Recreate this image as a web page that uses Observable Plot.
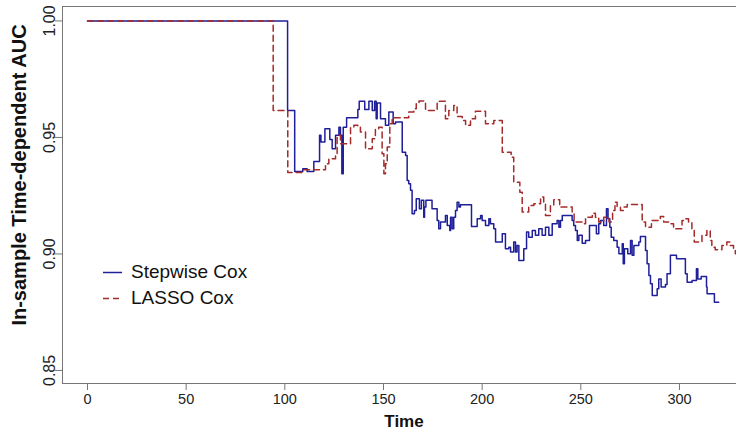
<!DOCTYPE html>
<html><head><meta charset="utf-8">
<script src="https://cdn.jsdelivr.net/npm/d3@7"></script>
<script src="https://cdn.jsdelivr.net/npm/@observablehq/plot@0.6"></script>
<style>
html,body{margin:0;padding:0;background:#fff;overflow:hidden;}
#wrap{position:relative;width:736px;height:435px;font-family:"Liberation Sans",Arial,sans-serif;}
.leg{position:absolute;display:flex;align-items:center;font-size:19px;color:#111;white-space:nowrap;}
.leg svg{margin-right:9px;}
</style></head><body><div id="wrap"></div>
<script>
const seriesNames = ["Stepwise Cox", "LASSO Cox"];
const seriesColors = ["#1f1f9a", "#a52a2a"];
const seriesDash = [null, "6,4"];
const xTicks = [0, 50, 100, 150, 200, 250, 300];
const yTicks = [0.85, 0.90, 0.95, 1.00];
const xDomain = [-12.67, 328.9];
const yDomain = [0.8444, 1.0062];
const xLabel = "Time";
const yLabel = "In-sample Time-dependent AUC";

const stepTime = [0, 101.4, 105.0, 109.1, 111.3, 114.7, 117.6, 118.3, 120.3, 122.8, 124.0, 125.7, 127.4, 128.2, 128.9, 129.6, 131.3, 137.0, 137.7, 140.5, 142.6, 144.3, 145.5, 146.3, 146.8, 148.5, 151.0, 152.7, 154.9, 156.1, 159.5, 161.2, 162.0, 162.8, 163.7, 164.5, 165.7, 166.6, 168.2, 169.2, 170.4, 170.8, 171.5, 174.6, 177.2, 178.0, 178.9, 181.4, 182.3, 183.6, 184.0, 184.8, 185.6, 186.5, 187.3, 188.2, 189.0, 194.6, 197.5, 199.2, 200.0, 201.7, 203.4, 204.2, 205.9, 206.8, 210.2, 211.8, 213.5, 214.4, 216.0, 216.9, 217.7, 218.6, 221.1, 222.5, 223.6, 225.4, 227.0, 228.7, 230.4, 232.1, 233.8, 235.5, 238.0, 238.9, 239.7, 240.6, 245.6, 246.4, 247.3, 248.2, 249.0, 250.7, 252.4, 254.4, 257.9, 259.1, 260.0, 261.6, 263.0, 263.8, 264.7, 265.4, 266.7, 268.4, 269.3, 271.0, 271.5, 272.1, 273.8, 275.2, 276.0, 276.9, 279.4, 280.2, 282.8, 283.6, 284.5, 285.3, 286.2, 288.7, 289.5, 290.7, 292.9, 293.7, 295.4, 298.5, 303.0, 303.9, 306.4, 308.6, 309.3, 311.0, 313.7, 314.0, 317.7, 319.9];
const stepAUC = [1.000, 0.9616, 0.9354, 0.9366, 0.9354, 0.9397, 0.9509, 0.948, 0.9537, 0.9491, 0.9451, 0.9509, 0.9544, 0.9509, 0.9344, 0.9544, 0.9585, 0.962, 0.9655, 0.962, 0.9655, 0.9616, 0.9655, 0.958, 0.9648, 0.958, 0.9552, 0.9609, 0.9559, 0.9566, 0.9437, 0.9423, 0.9315, 0.9301, 0.9273, 0.9172, 0.9187, 0.9237, 0.9194, 0.923, 0.9158, 0.9201, 0.923, 0.9194, 0.9144, 0.9108, 0.9137, 0.9165, 0.9122, 0.9101, 0.9158, 0.9108, 0.9158, 0.9187, 0.9222, 0.9201, 0.9211, 0.9118, 0.9151, 0.9165, 0.9144, 0.9122, 0.9151, 0.913, 0.9108, 0.9051, 0.9087, 0.9022, 0.9029, 0.9008, 0.9051, 0.9008, 0.9036, 0.8972, 0.9022, 0.9094, 0.9072, 0.9101, 0.908, 0.9108, 0.908, 0.9115, 0.908, 0.913, 0.9144, 0.9115, 0.9144, 0.9165, 0.9144, 0.9122, 0.9101, 0.9058, 0.908, 0.9046, 0.9058, 0.9122, 0.9087, 0.913, 0.9144, 0.9122, 0.9194, 0.9151, 0.9115, 0.9072, 0.9058, 0.9029, 0.9001, 0.9044, 0.8958, 0.9022, 0.9001, 0.9058, 0.8994, 0.9036, 0.9051, 0.9075, 0.9015, 0.8958, 0.8908, 0.8872, 0.8822, 0.8851, 0.8893, 0.8858, 0.8869, 0.8915, 0.8994, 0.8979, 0.8915, 0.8879, 0.8886, 0.8936, 0.8893, 0.8903, 0.8858, 0.8829, 0.8793, 0.8793];

const lassoTime = [0, 94.1, 101.5, 108.6, 120.6, 122.3, 125.7, 126.5, 128.2, 133.3, 135.0, 137.0, 138.3, 140.9, 144.3, 145.9, 147.6, 149.3, 150.2, 151.0, 151.9, 153.2, 154.4, 162.8, 165.4, 166.6, 168.0, 171.3, 177.2, 181.4, 183.1, 185.6, 187.3, 189.9, 191.6, 194.1, 196.6, 201.7, 205.9, 210.2, 214.7, 216.0, 219.1, 220.3, 223.6, 226.2, 229.6, 231.2, 232.1, 234.6, 236.3, 239.3, 245.6, 246.6, 250.7, 252.4, 255.8, 257.4, 259.1, 261.6, 264.3, 266.1, 267.3, 268.4, 270.1, 271.8, 273.5, 281.1, 282.8, 285.8, 290.3, 292.0, 294.5, 297.0, 301.3, 303.0, 304.6, 306.3, 307.5, 311.4, 313.9, 315.6, 316.4, 318.1, 321.5, 324.0, 325.7, 327.4, 328.3, 330.0];
const lassoAUC = [1.000, 0.9616, 0.935, 0.9361, 0.9387, 0.9409, 0.943, 0.9509, 0.9473, 0.9544, 0.9552, 0.9544, 0.9523, 0.9451, 0.9494, 0.9537, 0.9544, 0.943, 0.9344, 0.9387, 0.9459, 0.9559, 0.9585, 0.9609, 0.9623, 0.9648, 0.9656, 0.9616, 0.9655, 0.958, 0.9616, 0.9637, 0.959, 0.9573, 0.9552, 0.958, 0.9612, 0.9559, 0.9573, 0.9437, 0.9415, 0.9308, 0.9265, 0.918, 0.9208, 0.9215, 0.9244, 0.9215, 0.9165, 0.9208, 0.9233, 0.9201, 0.918, 0.9137, 0.913, 0.9158, 0.9175, 0.9158, 0.9137, 0.9158, 0.9137, 0.9187, 0.9222, 0.9201, 0.9187, 0.9201, 0.9212, 0.9137, 0.9115, 0.9144, 0.9161, 0.9137, 0.913, 0.9108, 0.9144, 0.9151, 0.9137, 0.9101, 0.9051, 0.908, 0.9101, 0.9058, 0.9029, 0.9018, 0.9036, 0.9051, 0.9036, 0.9015, 0.9001, 0.9001];

const stepData = stepTime.map((t, i) => ({time: t, auc: stepAUC[i]}));
const lassoData = lassoTime.map((t, i) => ({time: t, auc: lassoAUC[i]}));
const axisColor = "#777";

const chart = Plot.plot({
  width: 736, height: 435,
  marginLeft: 62, marginRight: 0, marginTop: 6, marginBottom: 52,
  style: {fontFamily: "'Liberation Sans', Arial, sans-serif", background: "#fff", color: "#222"},
  x: {domain: xDomain},
  y: {domain: yDomain},
  marks: [
    Plot.ruleY(yDomain, {stroke: axisColor}),
    Plot.ruleX([xDomain[0]], {stroke: axisColor}),
    Plot.axisX({ticks: xTicks, tickSize: 7, tickPadding: 3, fontSize: 14.5, label: null, stroke: axisColor, fill: "#222"}),
    Plot.axisY({ticks: yTicks, tickSize: 7, tickPadding: 1, tickRotate: -90, fontSize: 16, label: null, stroke: axisColor, fill: "#222", tickFormat: d => d.toFixed(2)}),
    Plot.text([xLabel], {frameAnchor: "bottom", textAnchor: "middle", lineAnchor: "middle", dx: 4.5, dy: 38, fontWeight: "bold", fontSize: 17, fill: "#111"}),
    Plot.text([yLabel], {frameAnchor: "left", textAnchor: "middle", lineAnchor: "middle", dx: -42.5, dy: -20, rotate: -90, fontWeight: "bold", fontSize: 20, fill: "#111"}),
    Plot.line(stepData, {x: "time", y: "auc", curve: "step-after", stroke: seriesColors[0], strokeWidth: 1.5, clip: true}),
    Plot.line(lassoData, {x: "time", y: "auc", curve: "step-after", stroke: seriesColors[1], strokeWidth: 1.5, strokeDasharray: seriesDash[1], clip: true})
  ]
});
const wrap = document.getElementById("wrap");
wrap.appendChild(chart);

// legend (inside plot area, R-style, no box)
const legTops = [261, 287];
seriesNames.forEach((name, i) => {
  const d = document.createElement("div");
  d.className = "leg";
  d.style.left = "103px";
  d.style.top = legTops[i] + "px";
  d.innerHTML = `<svg width="19" height="22"><line x1="0" x2="19" y1="11.5" y2="11.5" stroke="${seriesColors[i]}" stroke-width="1.5" ${seriesDash[i] ? `stroke-dasharray="${seriesDash[i]}"` : ""}/></svg><span>${name}</span>`;
  wrap.appendChild(d);
});
</script></body></html>
